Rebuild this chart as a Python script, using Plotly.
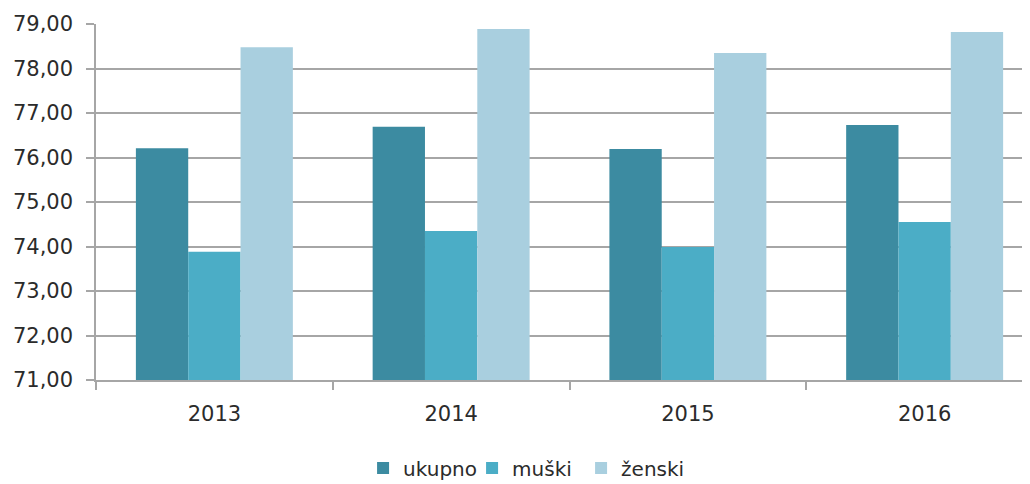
import plotly.graph_objects as go

years = ["2013", "2014", "2015", "2016"]
ukupno = [76.21, 76.69, 76.19, 76.73]
muski = [73.88, 74.35, 73.99, 74.55]
zenski = [78.48, 78.89, 78.35, 78.82]
series_names = ["ukupno", "muški", "ženski"]
colors = ["#3C8BA1", "#4BADC6", "#A9CFDF"]

font_family = "DejaVu Sans"
text_color = "#2B2B2B"

fig = go.Figure()
for name, vals, col in zip(series_names, [ukupno, muski, zenski], colors):
    fig.add_trace(go.Bar(x=years, y=vals, name=name, marker_color=col,
                         marker_line_width=0))

fig.update_layout(
    width=1022, height=476,
    margin=dict(l=88, r=0, t=16, b=104, autoexpand=False),
    paper_bgcolor="white", plot_bgcolor="white",
    barmode="group", bargap=0.337, bargroupgap=0,
    separators=",.",
    font=dict(family=font_family, size=21, color=text_color),
    showlegend=True,
    legend=dict(orientation="h", x=0.461, xanchor="center", y=-0.247, yanchor="middle",
                font=dict(size=20, color=text_color), itemsizing="constant",
                traceorder="normal", tracegroupgap=0, entrywidth=64, entrywidthmode="pixels"),
)
fig.update_yaxes(range=[71, 79], dtick=1, tickformat=".2f", automargin=False,
                 showgrid=True, gridcolor="#A6A6A6", gridwidth=1.5,
                 showline=True, linecolor="#A6A6A6", linewidth=1.5,
                 ticks="outside", ticklen=8, tickcolor="#A6A6A6", tickwidth=1.5,
                 ticklabelstandoff=9, zeroline=False,
                 tickfont=dict(size=21, color=text_color))
fig.update_xaxes(range=[-0.5, 3.445], type="category", automargin=False,
                 showline=True, linecolor="#A6A6A6", linewidth=1.5,
                 ticks="outside", ticklen=8, tickcolor="#A6A6A6", tickwidth=1.5,
                 tickson="boundaries", ticklabelstandoff=14,
                 tickfont=dict(size=21, color=text_color))

fig.write_html("out.html")
